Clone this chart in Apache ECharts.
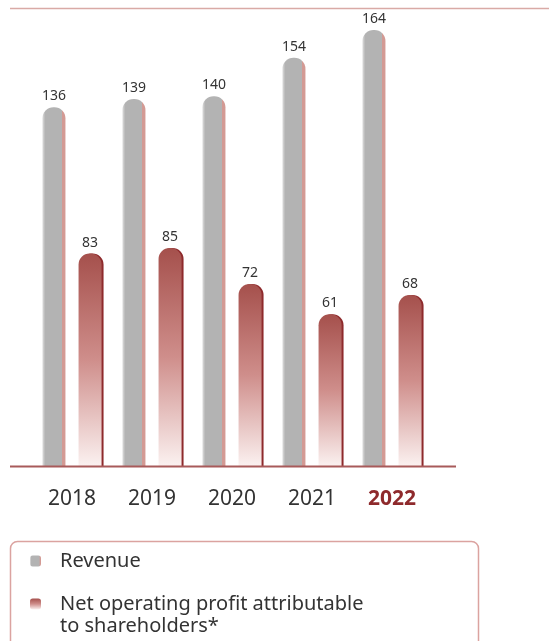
<!DOCTYPE html>
<html>
<head>
    <meta charset="UTF-8">
    <title>Revenue and profit</title>
    <script type="text/javascript" src="https://cdn.jsdelivr.net/npm/echarts@6/dist/echarts.min.js"></script>
    <style>
        html, body { margin: 0; padding: 0; background: #fff; }
    </style>
</head>
<body>
    <div id="chart" style="width:549px; height:641px;"></div>
    <script>
        // data
        var years = ['2018', '2019', '2020', '2021', '2022'];
        var revenue = [136, 139, 140, 154, 164];
        var profit = [83, 85, 72, 61, 68];
        var revenueName = 'Revenue';
        var profitName = 'Net operating profit attributable to shareholders*';

        var chart = echarts.init(document.getElementById('chart'), null, {renderer: 'canvas'});

        var font = '"Noto Sans", "Open Sans", sans-serif';

        var option = {
            animation: false,
            grid: {left: 32, top: 8, width: 400, height: 458},
            xAxis: {
                type: 'category',
                data: years,
                axisLine: {show: false},
                axisTick: {show: false},
                axisLabel: {
                    interval: 0,
                    margin: 23,
                    fontSize: 21,
                    fontFamily: font,
                    color: '#333',
                    formatter: function (v) {
                        return v === '2022' ? '{hl|' + v + '}' : v;
                    },
                    rich: {
                        hl: {fontSize: 21, fontFamily: font, color: '#8e2a2c', fontWeight: 'bold'}
                    }
                }
            },
            yAxis: {
                type: 'value',
                min: 6,
                max: 172,
                show: false,
                splitLine: {show: false}
            },
            legend: [
                {
                    left: 25,
                    top: 545,
                    itemWidth: 11,
                    itemHeight: 11,
                    icon: 'roundRect',
                    textStyle: {fontSize: 20, fontFamily: font, color: '#333', lineHeight: 22,
                                padding: [0, 0, 0, 14]},
                    data: [revenueName]
                },
                {
                    left: 25,
                    top: 566,
                    itemWidth: 11,
                    itemHeight: 11,
                    icon: 'roundRect',
                    textStyle: {fontSize: 20, fontFamily: font, color: '#333', lineHeight: 22,
                                padding: [0, 0, 0, 14]},
                    // blank first line keeps the icon level with the first text line
                    formatter: function () {
                        return '\nNet operating profit attributable\nto shareholders*';
                    },
                    data: [profitName]
                }
            ],
            graphic: [
                {type: 'line', shape: {x1: 10, y1: 8.5, x2: 549, y2: 8.5},
                 style: {stroke: '#d9aaa6', lineWidth: 1.5}},
                {type: 'line', shape: {x1: 10, y1: 466.5, x2: 456, y2: 466.5}, z: 10,
                 style: {stroke: '#a85a5a', lineWidth: 2}},
                {type: 'rect', shape: {x: 10.5, y: 541.5, width: 468, height: 120, r: 7},
                 style: {fill: 'none', stroke: '#dba3a0', lineWidth: 1.5}}
            ],
            series: [
                {
                    name: revenueName,
                    type: 'bar',
                    data: revenue,
                    barWidth: 23,
                    barGap: '57%',
                    itemStyle: {
                        color: new echarts.graphic.LinearGradient(0, 0, 1, 0, [
                            {offset: 0, color: '#dedede'},
                            {offset: 0.12, color: '#b3b3b3'},
                            {offset: 0.86, color: '#b3b3b3'},
                            {offset: 0.87, color: '#d39a94'},
                            {offset: 1, color: '#d39a94'}
                        ]),
                        borderRadius: [11, 11, 0, 0]
                    },
                    label: {
                        show: true,
                        position: 'top',
                        distance: 4,
                        fontSize: 14,
                        fontFamily: font,
                        color: '#333'
                    }
                },
                {
                    name: profitName,
                    type: 'bar',
                    data: profit,
                    barWidth: 23,
                    itemStyle: {
                        color: new echarts.graphic.LinearGradient(0, 0, 0, 1, [
                            {offset: 0, color: '#a5504c'},
                            {offset: 0.5, color: '#cf8e8b'},
                            {offset: 1, color: '#fbf1f0'}
                        ]),
                        borderRadius: [11, 11, 0, 0],
                        shadowColor: '#8e2a2c',
                        shadowOffsetX: 2,
                        shadowBlur: 0
                    },
                    label: {
                        show: true,
                        position: 'top',
                        distance: 4,
                        fontSize: 14,
                        fontFamily: font,
                        color: '#333'
                    }
                }
            ]
        };
        chart.setOption(option);
    </script>
</body>
</html>
